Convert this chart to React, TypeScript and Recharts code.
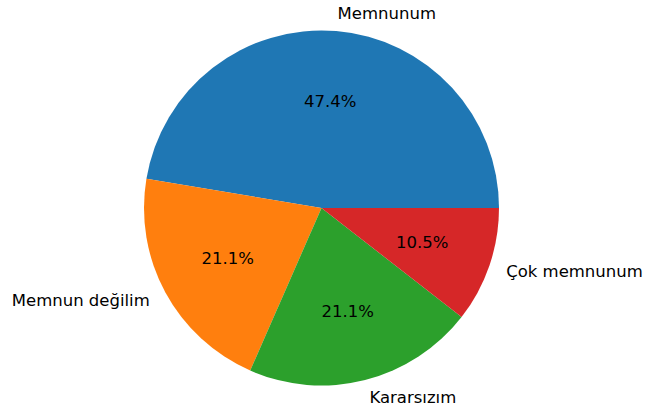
import { Cell, Pie, PieChart } from 'recharts'

const categories = ['Memnunum', 'Memnun değilim', 'Kararsızım', 'Çok memnunum']
const counts = [9, 4, 4, 2]
const colors = ['#1f77b4', '#ff7f0e', '#2ca02c', '#d62728']

const data = categories.map((name, i) => ({ name, value: counts[i] }))

const RAD = Math.PI / 180
const font = 'DejaVu Sans'
const size = 16.5

function renderLabel(props: any) {
	const { cx, cy, midAngle, outerRadius, percent, name } = props
	const cos = Math.cos(-midAngle * RAD)
	const sin = Math.sin(-midAngle * RAD)
	const px = cx + outerRadius * 0.6 * cos
	const py = cy + outerRadius * 0.6 * sin
	const lx = cx + outerRadius * 1.1 * cos
	const ly = cy + outerRadius * 1.1 * sin
	return (
		<g>
			<text
				x={px}
				y={py}
				textAnchor='middle'
				dominantBaseline='central'
				fontFamily={font}
				fontSize={size}
				fill='#000'
			>
				{(percent * 100).toFixed(1)}%
			</text>
			<text
				x={lx}
				y={ly}
				textAnchor={cos > 0 ? 'start' : 'end'}
				dominantBaseline='central'
				fontFamily={font}
				fontSize={size}
				fill='#000'
			>
				{name}
			</text>
		</g>
	)
}

export default function App() {
	return (
		<div style={{ position: 'absolute', left: 0, top: 0, background: '#fff' }}>
			<PieChart width={649} height={411}>
				{/* cx/cy are offset by the chart's 5px margin */}
				<Pie
					data={data}
					dataKey='value'
					nameKey='name'
					cx={316.5}
					cy={203}
					outerRadius={177.5}
					startAngle={0}
					endAngle={360}
					stroke='none'
					label={renderLabel}
					labelLine={false}
					isAnimationActive={false}
				>
					{data.map((d, i) => (
						<Cell key={d.name} fill={colors[i]} />
					))}
				</Pie>
			</PieChart>
		</div>
	)
}
